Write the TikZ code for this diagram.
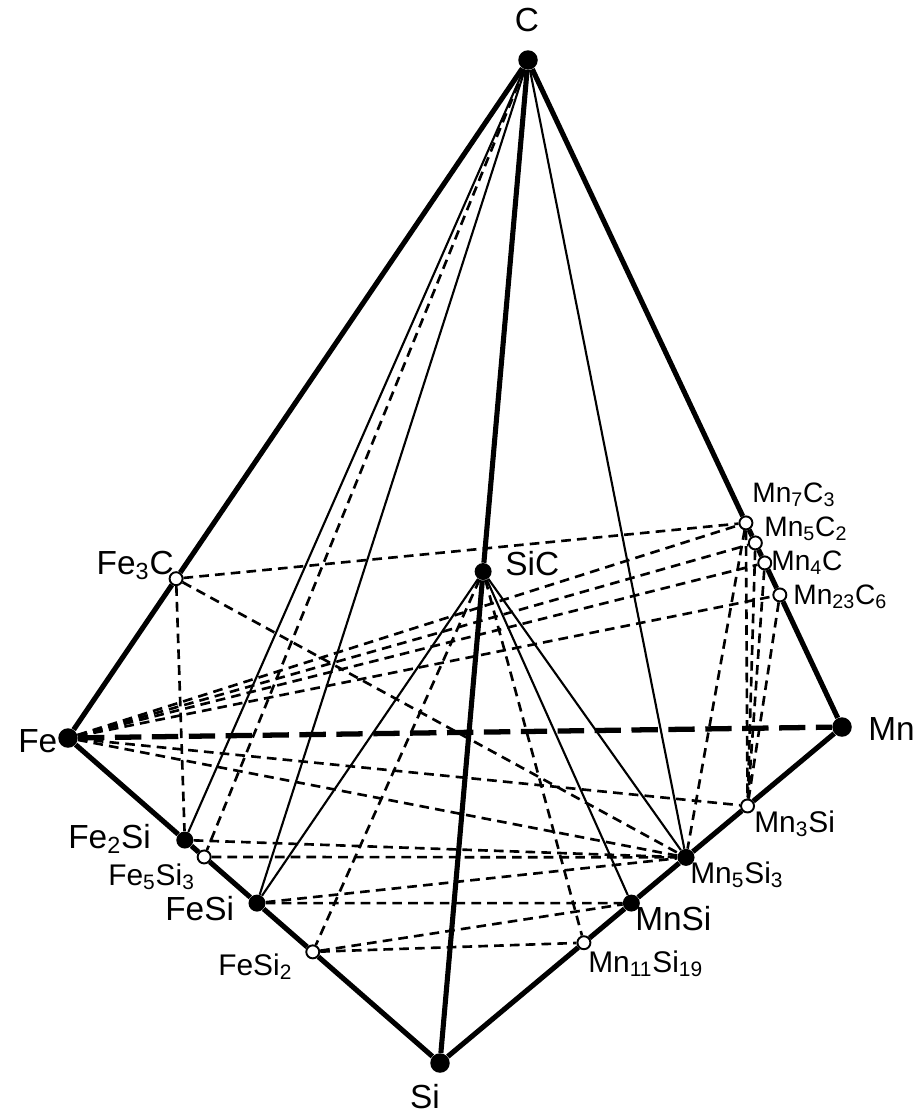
\documentclass[tikz,border=0pt]{standalone}
\usepackage{fontspec}
\setmainfont{Liberation Sans}
\usetikzlibrary{calc}
\tikzset{
  corner/.style={circle,fill=black,inner sep=0pt,minimum size=.39cm},
  phase/.style={circle,fill=black,inner sep=0pt,minimum size=.34cm},
  hollow/.style={circle,draw=black,fill=white,line width=1.1pt,inner sep=0pt,minimum size=.26cm},
  rim/.style={line width=2.9pt},
  rimdash/.style={line width=3pt,dash pattern=on 15pt off 6pt},
  tie/.style={line width=1.2pt},
  dashtie/.style={line width=1.5pt,dash pattern=on 5.5pt off 3.5pt},
  lab/.style={inner sep=0pt,font=\fontsize{19}{22}\selectfont},
  sublab/.style={inner sep=0pt,font=\fontsize{17}{20}\selectfont},
  carblab/.style={inner sep=0pt,font=\fontsize{16}{18}\selectfont,anchor=base west}
}

\begin{document}
\begin{tikzpicture}[x=.02cm,y=-.02cm]
  \useasboundingbox (0,0) rectangle (921,1113);
  % pure elements
  \node[corner] (C) at (528,60) {};
  \node[corner] (Fe) at (68,738) {};
  \node[corner] (Mn) at (842,727) {};
  \node[corner] (Si) at (440,1063) {};
  % compounds on the edges
  \node[phase] (sic) at ($(C)!.51!(Si)$) {};
  \node[hollow] (fe3c) at ($(C)!.765!(Fe)$) {};
  \node[hollow] (mn7c3) at ($(C)!.694!(Mn)$) {};
  \node[hollow] (mn5c2) at ($(C)!.724!(Mn)$) {};
  \node[hollow] (mn4c) at ($(C)!.754!(Mn)$) {};
  \node[hollow] (mn23c6) at ($(C)!.802!(Mn)$) {};
  \node[phase] (fe2si) at ($(Fe)!.314!(Si)$) {};
  \node[hollow] (fe5si3) at ($(Fe)!.366!(Si)$) {};
  \node[phase] (fesi) at ($(Fe)!.508!(Si)$) {};
  \node[hollow] (fesi2) at ($(Fe)!.658!(Si)$) {};
  \node[hollow] (mn3si) at ($(Mn)!.235!(Si)$) {};
  \node[phase] (mn5si3) at ($(Mn)!.388!(Si)$) {};
  \node[phase] (mnsi) at ($(Mn)!.524!(Si)$) {};
  \node[hollow] (mn11si19) at ($(Mn)!.642!(Si)$) {};
  % labels
  \node[lab,anchor=base] (labC) at (527,31) {C};
  \node[lab,anchor=base west] (labFe) at (18,752) {Fe};
  \node[lab,anchor=base west] (labMn) at (868,740) {Mn};
  \node[lab,anchor=base] (labSi) at (425,1108) {Si};
  \node[lab,anchor=base west] (labsic) at (505,575) {SiC};
  \node[lab,anchor=base east] (labfe3c) at (174,574) {Fe\textsubscript{3}C};
  \node[lab,anchor=base west] (labfe2si) at (68,848) {Fe\textsubscript{2}Si};
  \node[sublab,anchor=base west] (labfe5si3) at (108,885) {Fe\textsubscript{5}Si\textsubscript{3}};
  \node[lab,anchor=base west] (labfesi) at (165,920) {FeSi};
  \node[sublab,anchor=base west] (labfesi2) at (218,975) {FeSi\textsubscript{2}};
  \node[sublab,anchor=base west] (labmn3si) at (754,832) {Mn\textsubscript{3}Si};
  \node[sublab,anchor=base west] (labmn5si3) at (690,883) {Mn\textsubscript{5}Si\textsubscript{3}};
  \node[lab,anchor=base west] (labmnsi) at (635,930) {MnSi};
  \node[sublab,anchor=base west] (labmn11si19) at (588,972) {Mn\textsubscript{11}Si\textsubscript{19}};
  \node[carblab] (labmn7c3) at (752,502) {Mn\textsubscript{7}C\textsubscript{3}};
  \node[carblab] (labmn5c2) at (764,536) {Mn\textsubscript{5}C\textsubscript{2}};
  \node[carblab] (labmn4c) at (771,570) {Mn\textsubscript{4}C};
  \node[carblab] (labmn23c6) at (793,604) {Mn\textsubscript{23}C\textsubscript{6}};
  % edges of the tetrahedron
  \draw[rim] (C) -- (fe3c) -- (Fe);
  \draw[rim] (C) -- (mn7c3) -- (mn5c2) -- (mn4c) -- (mn23c6) -- (Mn);
  \draw[rim] (C) -- (sic) -- (Si);
  \draw[rim] (Fe) -- (fe2si) -- (fe5si3) -- (fesi) -- (fesi2) -- (Si);
  \draw[rim] (Mn) -- (mn3si) -- (mn5si3) -- (mnsi) -- (mn11si19) -- (Si);
  \draw[rimdash] (Fe) -- (Mn);
  % tie lines
  \foreach \a/\b in {C/fe2si,C/fesi,C/mn5si3,sic/fesi,sic/mnsi,sic/mn5si3}
    \draw[tie] (\a) -- (\b);
  \foreach \a/\b in {C/fe5si3,sic/fesi2,sic/mn11si19,fe3c/mn7c3,fe3c/fe2si,fe3c/mn5si3,
      Fe/mn7c3,Fe/mn5c2,Fe/mn4c,Fe/mn23c6,Fe/mn3si,Fe/mn5si3,
      fe2si/mn5si3,fe5si3/mn5si3,fesi/mn5si3,fesi/mnsi,fesi2/mnsi,fesi2/mn11si19,
      mn7c3/mn5si3,mn7c3/mn3si,mn5c2/mn3si,mn4c/mn3si,mn23c6/mn3si}
    \draw[dashtie] (\a) -- (\b);
\end{tikzpicture}
\end{document}
